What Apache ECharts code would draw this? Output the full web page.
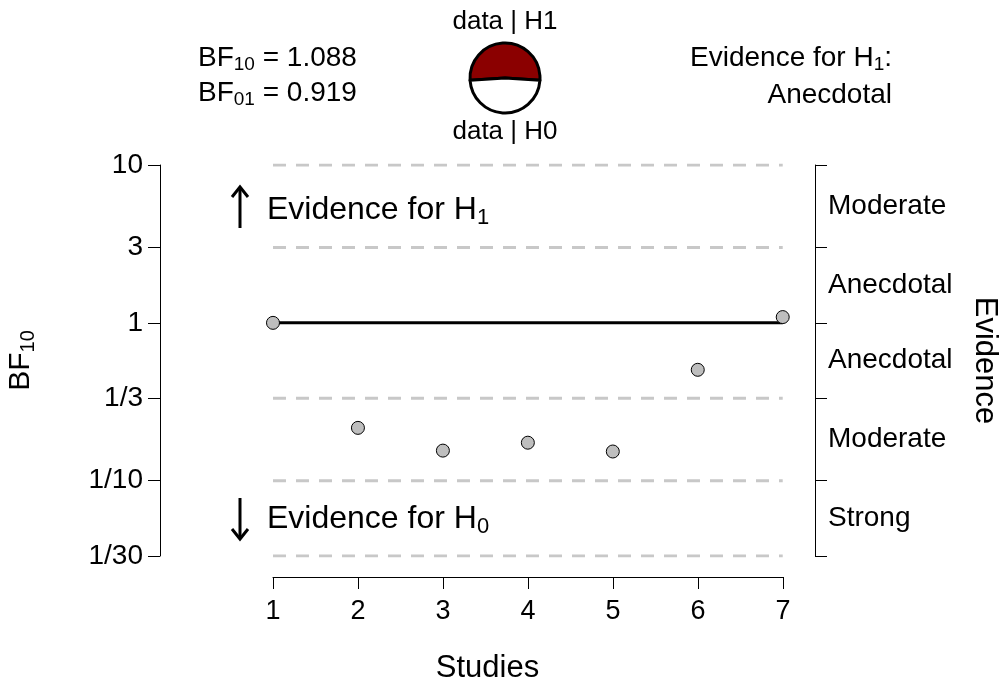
<!DOCTYPE html>
<html>
<head>
<meta charset="utf-8">
<script src="https://cdn.jsdelivr.net/npm/echarts@6/dist/echarts.min.js"></script>
<style>
  html, body { margin: 0; padding: 0; background: #fff; }
  #bf { width: 999px; height: 686px; }
</style>
</head>
<body>
<div id="bf"></div>
<script>
// data
var studies = [1, 2, 3, 4, 5, 6, 7];
var bfValues = [1, 0.216, 0.155, 0.174, 0.153, 0.504, 1.088];
var bf10 = 1.088;
var bf01 = 0.919;
var evidenceText = 'Anecdotal';
var yTicks = [1 / 30, 1 / 10, 1 / 3, 1, 3, 10];
var yTickLabels = ['1/30', '1/10', '1/3', '1', '3', '10'];
var evidenceLabels = ['Strong', 'Moderate', 'Anecdotal', 'Anecdotal', 'Moderate'];
var refLevels = [1 / 30, 1 / 10, 1 / 3, 3, 10];

// label positions on the right axis: geometric middle of each band
var evidenceMid = [];
for (var i = 0; i < yTicks.length - 1; i++) {
    evidenceMid.push(Math.sqrt(yTicks[i] * yTicks[i + 1]));
}
function findIdx(arr, v) {
    for (var k = 0; k < arr.length; k++) {
        if (Math.abs(Math.log(v / arr[k])) < 1e-3) return k;
    }
    return -1;
}
// tiny pad so the end ticks are not dropped by float rounding
var yMin = yTicks[0] * 0.999;
var yMax = yTicks[yTicks.length - 1] * 1.001;

var font = 'Liberation Sans, Arial, sans-serif';
var dom = document.getElementById('bf');
var myChart = echarts.init(dom);

var points = studies.map(function (s, i) { return [s, bfValues[i]]; });

var series = [];
// dashed reference lines
refLevels.forEach(function (lv) {
    series.push({
        type: 'line',
        xAxisIndex: 0, yAxisIndex: 0,
        data: [[studies[0], lv], [studies[studies.length - 1], lv]],
        symbol: 'none',
        silent: true,
        lineStyle: { color: '#c8c8c8', width: 3, type: [13, 10] },
        z: 1
    });
});
// line at BF = 1
series.push({
    type: 'line',
    xAxisIndex: 0, yAxisIndex: 0,
    data: [[studies[0], 1], [studies[studies.length - 1], 1]],
    symbol: 'none',
    lineStyle: { color: '#000', width: 3 },
    z: 2
});
// study points
series.push({
    type: 'scatter',
    xAxisIndex: 0, yAxisIndex: 0,
    data: points,
    symbol: 'circle',
    symbolSize: 13,
    itemStyle: { color: '#bebebe', borderColor: '#000', borderWidth: 1, opacity: 1 },
    z: 3
});
// prob wheel
var pH1 = bf10 / (bf10 + 1);
series.push({
    type: 'pie',
    center: [505, 78],
    radius: 35,
    startAngle: 90 + 180 * pH1,
    clockwise: true,
    silent: true,
    label: { show: false },
    labelLine: { show: false },
    itemStyle: { borderColor: '#000', borderWidth: 3 },
    data: [
        { value: bf10, name: 'data | H1', itemStyle: { color: '#8b0000' } },
        { value: 1, name: 'data | H0', itemStyle: { color: '#ffffff' } }
    ]
});

function subText(x, y, main, sub, tail, size, align) {
    return {
        type: 'text', x: x, y: y,
        style: {
            text: '{a|' + main + '}{s|' + sub + '}' + (tail ? '{a|' + tail + '}' : ''),
            align: align, verticalAlign: 'middle',
            rich: {
                a: { fontSize: size, fontFamily: font, fill: '#000' },
                s: { fontSize: Math.round(size * 0.68), fontFamily: font, fill: '#000', padding: [Math.round(size * 0.5), 0, 0, 0] }
            }
        }
    };
}
// arrows next to "Evidence for ..."
function arrow(x, y0, y1) {
    var d = y1 > y0 ? -10 : 10;
    return {
        type: 'group',
        children: [
            { type: 'line', shape: { x1: x, y1: y0, x2: x, y2: y1 }, style: { stroke: '#000', lineWidth: 3 } },
            { type: 'polyline', shape: { points: [[x - 8, y1 + d], [x, y1], [x + 8, y1 + d]] }, style: { stroke: '#000', lineWidth: 3, fill: null } }
        ]
    };
}

option = {
    animation: false,
    backgroundColor: '#fff',
    textStyle: { fontFamily: font },
    grid: [
        { left: 160, right: 184, top: 165, height: 391, outerBoundsMode: 'none', containLabel: false },
        { left: 273, width: 510, top: 576, height: 1, outerBoundsMode: 'none', containLabel: false }
    ],
    xAxis: [
        {
            type: 'value', gridIndex: 0, min: -0.33, max: 7.38,
            axisLine: { show: false },
            axisTick: { show: false },
            axisLabel: { show: false },
            splitLine: { show: false },
            name: 'Studies',
            nameLocation: 'middle',
            nameGap: 97,
            nameTextStyle: { color: '#000', fontSize: 31, fontFamily: font }
        },
        {
            type: 'value', gridIndex: 1, min: 1, max: 7, interval: 1,
            position: 'bottom',
            axisLine: { show: true, lineStyle: { color: '#000', width: 1 } },
            axisTick: { show: true, length: 12, lineStyle: { color: '#000' } },
            axisLabel: { color: '#000', fontSize: 27, margin: 21, fontFamily: font },
            splitLine: { show: false }
        }
    ],
    yAxis: [
        {
            type: 'log', gridIndex: 0, min: yMin, max: yMax,
            position: 'left',
            axisLine: { show: true, onZero: false, lineStyle: { color: '#000', width: 1 } },
            axisTick: { show: true, length: 12, customValues: yTicks, lineStyle: { color: '#000' } },
            axisLabel: {
                color: '#000', fontSize: 28, margin: 17, fontFamily: font,
                customValues: yTicks,
                formatter: function (v) { var k = findIdx(yTicks, v); return k >= 0 ? yTickLabels[k] : ''; }
            },
            splitLine: { show: false },
            name: '{a|BF}{s|10}',
            nameLocation: 'middle',
            nameRotate: 90,
            nameGap: 122,
            nameTextStyle: {
                color: '#000',
                rich: {
                    a: { fontSize: 30, fontFamily: font, color: '#000' },
                    s: { fontSize: 20, fontFamily: font, color: '#000', padding: [14, 0, 0, 0] }
                }
            }
        },
        {
            type: 'log', gridIndex: 0, min: yMin, max: yMax,
            position: 'right',
            axisLine: { show: true, onZero: false, lineStyle: { color: '#000', width: 1 } },
            axisTick: { show: true, length: 12, customValues: yTicks, lineStyle: { color: '#000' } },
            axisLabel: {
                color: '#000', fontSize: 28, margin: 13, fontFamily: font,
                customValues: evidenceMid,
                formatter: function (v) { var k = findIdx(evidenceMid, v); return k >= 0 ? evidenceLabels[k] : ''; }
            },
            splitLine: { show: false },
            name: 'Evidence',
            nameLocation: 'middle',
            nameRotate: -90,
            nameGap: 154,
            nameTextStyle: { color: '#000', fontSize: 31, fontFamily: font }
        },
        { type: 'value', gridIndex: 1, show: false, min: 0, max: 1 }
    ],
    graphic: [
        subText(198, 58, 'BF', '10', ' = ' + bf10.toFixed(3), 28, 'left'),
        subText(198, 93, 'BF', '01', ' = ' + bf01.toFixed(3), 28, 'left'),
        {
            type: 'text', x: 505, y: 22,
            style: { text: 'data | H1', fontSize: 26, fontFamily: font, fill: '#000', align: 'center', verticalAlign: 'middle' }
        },
        {
            type: 'text', x: 505, y: 132,
            style: { text: 'data | H0', fontSize: 26, fontFamily: font, fill: '#000', align: 'center', verticalAlign: 'middle' }
        },
        subText(892, 58, 'Evidence for H', '1', ':', 28, 'right'),
        {
            type: 'text', x: 892, y: 95,
            style: { text: evidenceText, fontSize: 28, fontFamily: font, fill: '#000', align: 'right', verticalAlign: 'middle' }
        },
        arrow(240, 228, 187),
        subText(267, 210, 'Evidence for H', '1', '', 32, 'left'),
        arrow(240, 498, 539),
        subText(267, 519, 'Evidence for H', '0', '', 32, 'left')
    ],
    series: series
};

if (option && typeof option === 'object') {
    myChart.setOption(option, true);
}
</script>
</body>
</html>
